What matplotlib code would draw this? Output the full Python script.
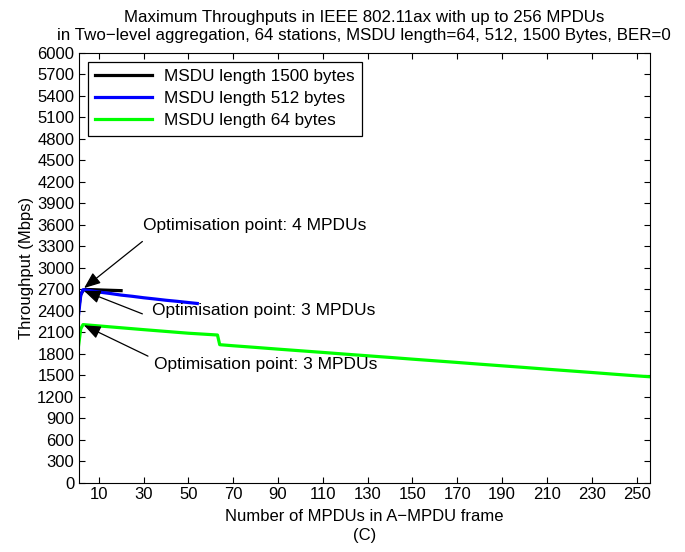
import numpy as np
import matplotlib
matplotlib.use('Agg')
import matplotlib.pyplot as plt

plt.rcParams['font.family'] = ['Liberation Sans', 'DejaVu Sans']

# Daten
x_1500 = [1, 2, 3, 4, 8, 12, 16, 20]
y_1500 = [2420, 2630, 2685, 2700, 2697, 2692, 2688, 2684]

x_512 = [1, 2, 3, 5, 10, 15, 20, 25, 30, 35, 40, 45, 50, 54]
y_512 = [2340, 2620, 2697, 2690, 2665, 2645, 2622, 2605, 2585, 2568, 2550, 2535, 2518, 2505]

x_64 = [1, 2, 3, 10, 20, 30, 40, 50, 63, 64, 70, 80, 90, 100, 110, 120, 130, 140,
        150, 160, 170, 180, 190, 200, 210, 220, 230, 240, 250, 256]
y_64 = [1910, 2150, 2210, 2192, 2166, 2140, 2115, 2090, 2065, 1930, 1915, 1892, 1868,
        1845, 1822, 1798, 1775, 1752, 1728, 1705, 1682, 1658, 1635, 1612, 1588, 1565,
        1542, 1518, 1495, 1482]

labels = ['MSDU length 1500 bytes', 'MSDU length 512 bytes', 'MSDU length 64 bytes']
xticks = np.arange(10, 251, 20)
yticks = np.arange(0, 6001, 300)

fig = plt.figure(figsize=(6.85, 5.52), dpi=100)
ax = fig.add_axes([0.1146, 0.125, 0.8344, 0.779])

ax.plot(x_1500, y_1500, color='black', lw=2.3, label=labels[0])
ax.plot(x_512, y_512, color='blue', lw=2.3, label=labels[1])
ax.plot(x_64, y_64, color='#00ff00', lw=2.3, label=labels[2])

ax.set_xlim(1, 256)
ax.set_ylim(0, 6000)
ax.set_xticks(xticks)
ax.set_yticks(yticks)
ax.tick_params(direction='in', top=True, right=True, labelsize=12, length=4, pad=3)

ax.set_title('Maximum Throughputs in IEEE 802.11ax with up to 256 MPDUs\n'
             'in Two\u2212level aggregation, 64 stations, MSDU length=64, 512, 1500 Bytes, BER=0',
             fontsize=12.2, pad=9, linespacing=1.25)
ax.set_xlabel('Number of MPDUs in A\u2212MPDU frame\n(C)', fontsize=12, labelpad=5,
              linespacing=1.3)
ax.set_ylabel('Throughput (Mbps)', fontsize=12, labelpad=2)

leg = ax.legend(loc='upper left', bbox_to_anchor=(0.016, 0.98), fontsize=12.3,
                handlelength=3.3, fancybox=False, framealpha=1, edgecolor='black',
                borderpad=0.45, labelspacing=0.4, borderaxespad=0, handletextpad=0.7)
leg.get_frame().set_linewidth(0.9)

arrow = dict(arrowstyle='-|>,head_length=1.0,head_width=0.4', color='black', lw=0.9,
             shrinkA=0, shrinkB=0)
ax.annotate('', xy=(3.5, 2720), xytext=(29.5, 3370), arrowprops=arrow)
ax.text(29.8, 3590, 'Optimisation point: 4 MPDUs', fontsize=12.5, va='center')
ax.annotate('', xy=(3.5, 2680), xytext=(29.5, 2360), arrowprops=arrow)
ax.text(34, 2400, 'Optimisation point: 3 MPDUs', fontsize=12.5, va='center')
ax.annotate('', xy=(3.5, 2200), xytext=(32, 1770), arrowprops=arrow)
ax.text(34.5, 1660, 'Optimisation point: 3 MPDUs', fontsize=12.5, va='center')

fig.savefig('out.png', dpi=100)
